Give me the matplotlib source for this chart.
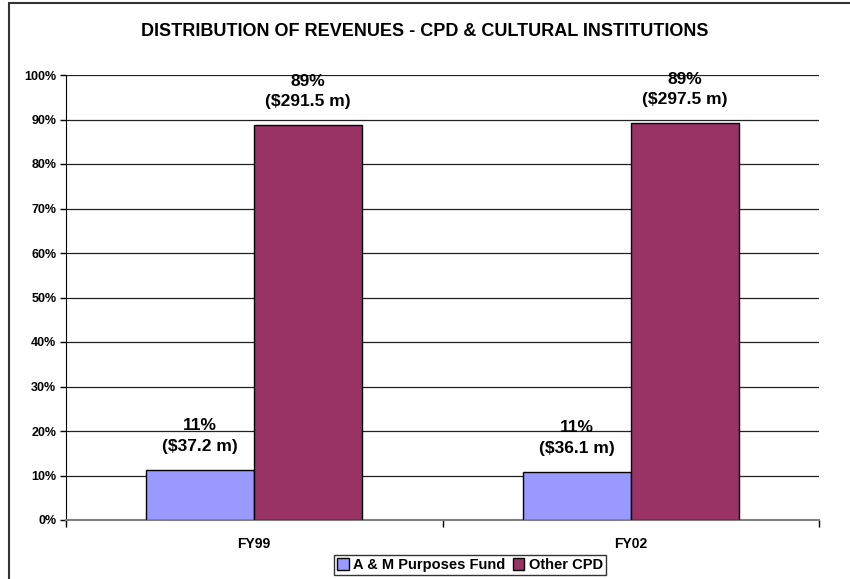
import numpy as np
import matplotlib.pyplot as plt
from matplotlib.patches import Rectangle

plt.rcParams['font.family'] = ['Liberation Sans', 'DejaVu Sans']
plt.rcParams['font.weight'] = 'bold'

# revenue figures, $ millions
years = ['FY99', 'FY02']
series = ['A & M Purposes Fund', 'Other CPD']
am_fund = np.array([37.2, 36.1])
other_cpd = np.array([291.5, 297.5])
colors = ['#9999FF', '#993366']

total = am_fund + other_cpd
shares = [am_fund / total * 100, other_cpd / total * 100]
amounts = [am_fund, other_cpd]

fig = plt.figure(figsize=(8.5, 5.79), dpi=100)
ax = fig.add_axes([66 / 850, 1 - 520 / 579, (819 - 66) / 850, (520 - 75) / 579])

# chart-area frame (left and top edges)
fig.patches.append(Rectangle((9 / 850, -0.1), 1.2, 1 - 3 / 579 + 0.1,
                             transform=fig.transFigure, fill=False,
                             edgecolor='#333333', linewidth=1.5))

x = np.arange(len(years))
w = 0.287
bars = []
for i in range(2):
    pos = x + (i - 0.5) * w
    b = ax.bar(pos, shares[i], width=w, color=colors[i], edgecolor='black',
               linewidth=1, label=series[i], zorder=3)
    bars.append(b)
    for xp, s, amt in zip(pos, shares[i], amounts[i]):
        ax.text(xp, s + 3.6, f'{s:.0f}%\n(${amt:.1f} m)', ha='center', va='bottom',
                fontsize=12.5, fontweight='bold', linespacing=1.45)

ax.set_xlim(-0.5, 1.5)
ax.set_ylim(0, 100)
ax.set_yticks(np.arange(0, 101, 10))
ax.set_yticklabels([f'{v}%' for v in range(0, 101, 10)], fontsize=9, fontweight='bold')
ax.yaxis.grid(True, color='#222222', linewidth=0.9, zorder=0)
ax.set_axisbelow(True)

ax.set_xticks(x)
ax.set_xticklabels(years, fontsize=10, fontweight='bold')
ax.tick_params(axis='x', length=0, pad=12)
ax.set_xticks([-0.5, 0.5, 1.5], minor=True)
ax.tick_params(axis='x', which='minor', length=5, color='black', width=1)
ax.tick_params(axis='y', length=4, color='black', width=1, pad=3)

for side in ['top', 'right']:
    ax.spines[side].set_visible(False)
ax.spines['left'].set_color('black')
ax.spines['bottom'].set_color('#808080')
ax.spines['bottom'].set_linewidth(1.5)

fig.text(0.5, 1 - 31 / 579, 'DISTRIBUTION OF REVENUES - CPD & CULTURAL INSTITUTIONS',
         ha='center', va='center', fontsize=13, fontweight='bold')

leg = fig.legend(handles=bars, labels=series, loc='center',
                 bbox_to_anchor=(470 / 850, 1 - 565 / 579), ncol=2,
                 fontsize=10.5, frameon=True, fancybox=False, borderpad=0.2,
                 handlelength=0.8, handleheight=0.8, handletextpad=0.3,
                 columnspacing=0.5, borderaxespad=0)
leg.get_frame().set_edgecolor('black')
leg.get_frame().set_linewidth(1)
for t in leg.get_texts():
    t.set_fontweight('bold')

fig.savefig('out.png', dpi=100)
